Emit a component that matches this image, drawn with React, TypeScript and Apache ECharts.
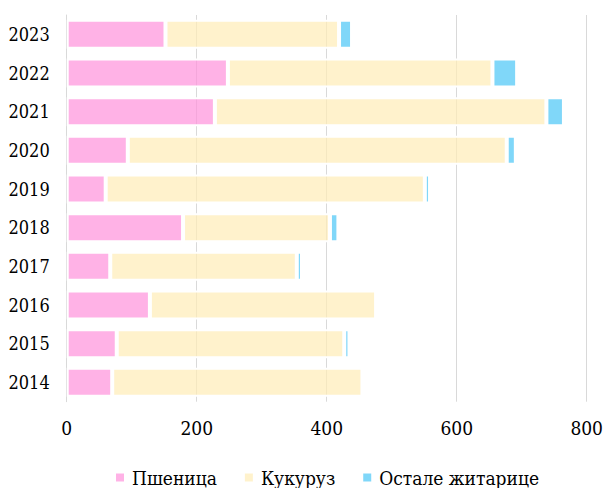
import React, { useEffect, useRef } from "react";
import * as echarts from "echarts";

const years = ["2014", "2015", "2016", "2017", "2018", "2019", "2020", "2021", "2022", "2023"];
const wheat = [70, 77, 128, 67, 179, 60, 94, 228, 248, 152];
const corn = [385, 350, 348, 287, 226, 491, 583, 510, 407, 267];
const other = [0, 8, 6, 8, 13, 8, 14, 27, 38, 20];
const seriesNames = ["Пшеница", "Кукуруз", "Остале житарице"];
const xTicks = { min: 0, max: 800, interval: 200 };

const FONT = "'DejaVu Serif Condensed', 'DejaVu Serif', serif";

export default function App() {
  const ref = useRef<HTMLDivElement>(null);
  useEffect(() => {
    document.body.style.margin = "0";
    const chart = echarts.init(ref.current!, null, { renderer: "svg" });
    const colors = ["rgba(255,146,219,0.7)", "rgba(255,236,182,0.7)", "rgba(74,198,246,0.7)"];
    const datas = [wheat, corn, other];
    chart.setOption({
      animation: false,
      grid: { left: 66.7, right: 17.3, top: 15, bottom: 86.3 },
      legend: {
        data: seriesNames,
        left: 116,
        top: 468,
        padding: 0,
        itemWidth: 8,
        itemHeight: 8,
        itemGap: 28,
        icon: "rect",
        itemStyle: { borderWidth: 0 },
        textStyle: { fontFamily: FONT, fontSize: 19, color: "#000", padding: [0, 0, 0, 3] },
      },
      xAxis: {
        type: "value",
        min: xTicks.min,
        max: xTicks.max,
        interval: xTicks.interval,
        axisLine: { show: false },
        axisTick: { show: false },
        axisLabel: { fontFamily: FONT, fontSize: 19, color: "#000", margin: 17 },
        splitLine: { show: true, lineStyle: { color: "#d9d9d9", width: 1 } },
      },
      yAxis: {
        type: "category",
        data: years,
        axisLine: { show: true, lineStyle: { color: "#d9d9d9" } },
        axisTick: { show: false },
        axisLabel: { fontFamily: FONT, fontSize: 18, color: "#000", margin: 17 },
      },
      series: seriesNames.map((name, i) => ({
        name,
        type: "bar",
        stack: "total",
        barWidth: "75%",
        data: datas[i],
        itemStyle: { color: colors[i], borderColor: "#fff", borderWidth: 2 },
      })),
    });
    return () => chart.dispose();
  }, []);
  return <div ref={ref} style={{ width: 606, height: 488 }} />;
}
